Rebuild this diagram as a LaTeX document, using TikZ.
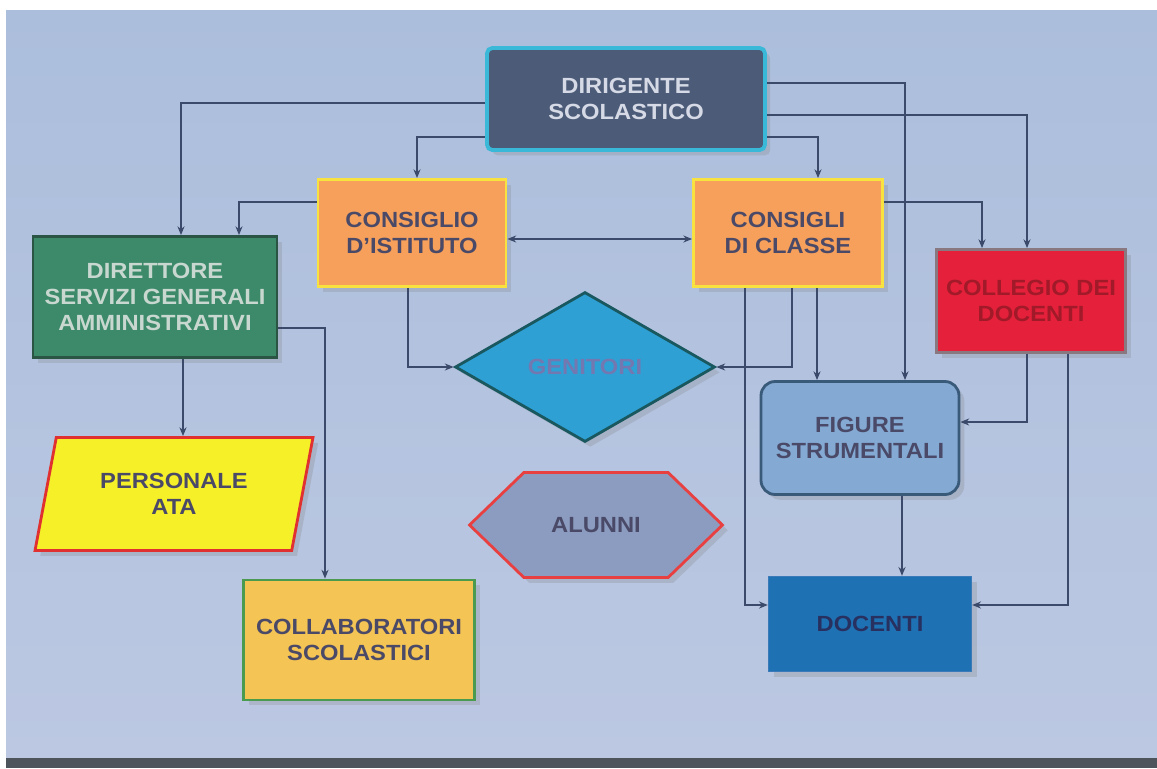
\documentclass[tikz,border=0pt]{standalone}
\usepackage{fontspec}
\setmainfont{Liberation Sans}[FakeStretch=1.08]
\usetikzlibrary{shapes.geometric,shapes.symbols,arrows.meta,calc,shadows}

\definecolor{sfondoA}{HTML}{ABBEDC}
\definecolor{sfondoB}{HTML}{BCC8E2}
\definecolor{striscia}{HTML}{4E545C}
\definecolor{linea}{HTML}{3B4A6B}
\definecolor{testo}{HTML}{4A4A68}

\tikzset{
  blocco/.style={draw, line width=1.6pt, inner sep=0pt, align=center,
    font=\fontsize{12.5}{15}\selectfont\bfseries, text=testo,
    drop shadow={shadow xshift=3pt, shadow yshift=-3pt, opacity=0.25}},
  freccia/.style={-{Stealth[length=5pt,width=4pt]}, line width=0.9pt, draw=linea},
}

\begin{document}
\begin{tikzpicture}[x=0.02cm, y=-0.02cm]
    \useasboundingbox (0,0) rectangle (1157,768);
    % Sfondo
    \fill[white] (0,0) rectangle (1157,768);
    \shade[top color=sfondoA, bottom color=sfondoB] (6,10) rectangle (1157,758);
    \fill[striscia] (6,758) rectangle (1157,768);

    % Blocchi
    \node[blocco, fill={rgb,255:red,75;green,91;blue,120}, draw={rgb,255:red,58;green,184;blue,216},
      line width=2.2pt, rounded corners=3pt, text={rgb,255:red,214;green,218;blue,230},
      minimum width=5.56cm, minimum height=2.04cm] (dir) at (626,99) {DIRIGENTE\\SCOLASTICO};
    \node[blocco, fill={rgb,255:red,246;green,160;blue,92}, draw={rgb,255:red,248;green,226;blue,64},
      minimum width=3.76cm, minimum height=2.14cm] (cdi) at (412,233) {CONSIGLIO\\D'ISTITUTO};
    \node[blocco, fill={rgb,255:red,246;green,160;blue,92}, draw={rgb,255:red,248;green,226;blue,64},
      minimum width=3.78cm, minimum height=2.14cm] (cdc) at (788,233) {CONSIGLI\\DI CLASSE};
    \node[blocco, fill={rgb,255:red,61;green,138;blue,106}, draw={rgb,255:red,42;green,84;blue,68},
      text={rgb,255:red,200;green,216;blue,208},
      minimum width=4.88cm, minimum height=2.42cm] (dsga) at (155,297) {DIRETTORE\\SERVIZI GENERALI\\AMMINISTRATIVI};
    \node[blocco, fill={rgb,255:red,228;green,32;blue,58}, draw={rgb,255:red,138;green,120;blue,128},
      text={rgb,255:red,160;green,26;blue,42},
      minimum width=3.78cm, minimum height=2.06cm] (col) at (1031,301) {COLLEGIO DEI\\DOCENTI};
    \node[blocco, diamond, fill={rgb,255:red,46;green,160;blue,212}, draw={rgb,255:red,26;green,88;blue,96},
      text={rgb,255:red,116;green,120;blue,176},
      minimum width=5.2cm, minimum height=3cm] (gen) at (585,367) {GENITORI};
    \node[blocco, fill={rgb,255:red,132;green,170;blue,212}, draw={rgb,255:red,58;green,90;blue,122},
      rounded corners=8pt,
      minimum width=3.96cm, minimum height=2.26cm] (fig) at (860,438) {FIGURE\\STRUMENTALI};
    \node[blocco, trapezium, trapezium left angle=63, trapezium right angle=117, trapezium stretches body,
      fill={rgb,255:red,246;green,240;blue,40}, draw={rgb,255:red,224;green,48;blue,48},
      minimum width=5.56cm, minimum height=2.26cm] (ata) at (174,494) {PERSONALE\\ATA};
    \node[blocco, signal, signal to=west and east, signal pointer angle=88,
      fill={rgb,255:red,139;green,156;blue,192}, draw={rgb,255:red,232;green,64;blue,64},
      minimum width=5.06cm, minimum height=2.1cm] (alu) at (596,525) {ALUNNI};
    \node[blocco, fill={rgb,255:red,244;green,196;blue,84}, draw={rgb,255:red,74;green,154;blue,80},
      minimum width=4.62cm, minimum height=2.4cm] (cls) at (359,640) {COLLABORATORI\\SCOLASTICI};
    \node[blocco, fill={rgb,255:red,30;green,114;blue,180}, draw={rgb,255:red,58;green,122;blue,184},
      line width=0.8pt, text={rgb,255:red,40;green,48;blue,96},
      minimum width=4.06cm, minimum height=1.9cm] (doc) at (870,624) {DOCENTI};

    % Collegamenti dal dirigente
    \draw[freccia] ($(dir.west)+(0,4)$) -| (dsga.north -| 181,0);
    \draw[freccia] ($(dir.west)+(0,38)$) -| (cdi.north -| 417,0);
    \draw[freccia] ($(dir.east)+(0,38)$) -| (cdc.north -| 818,0);
    \draw[freccia] ($(dir.east)+(0,-16)$) -| (fig.north -| 905,0);
    \draw[freccia] ($(dir.east)+(0,16)$) -| (col.north -| 1027,0);
    % Consigli
    \draw[freccia] ($(cdi.west)+(0,-31)$) -| (dsga.north -| 239,0);
    \draw[freccia, {Stealth[length=5pt,width=4pt]}-{Stealth[length=5pt,width=4pt]}] (cdi.east |- 0,239) -- (cdc.west |- 0,239);
    \draw[freccia] ($(cdc.east)+(0,-31)$) -| (col.north -| 982,0);
    \draw[freccia] (cdi.south -| 408,0) |- (gen.west);
    \draw[freccia] (cdc.south -| 792,0) |- (gen.east);
    \draw[freccia] (cdc.south -| 817,0) -- (fig.north -| 817,0);
    \draw[freccia] (cdc.south -| 745,0) |- (doc.west |- 0,605);
    % Collegio e figure
    \draw[freccia] (col.south -| 1027,0) |- (fig.east |- 0,422);
    \draw[freccia] (col.south -| 1068,0) |- (doc.east |- 0,605);
    \draw[freccia] (fig.south -| 902,0) -- (doc.north -| 902,0);
    % Direttore
    \draw[freccia] (dsga.south -| 183,0) -- (ata.north -| 183,0);
    \draw[freccia] (dsga.east |- 0,328) -| (cls.north -| 325,0);
\end{tikzpicture}
\end{document}
